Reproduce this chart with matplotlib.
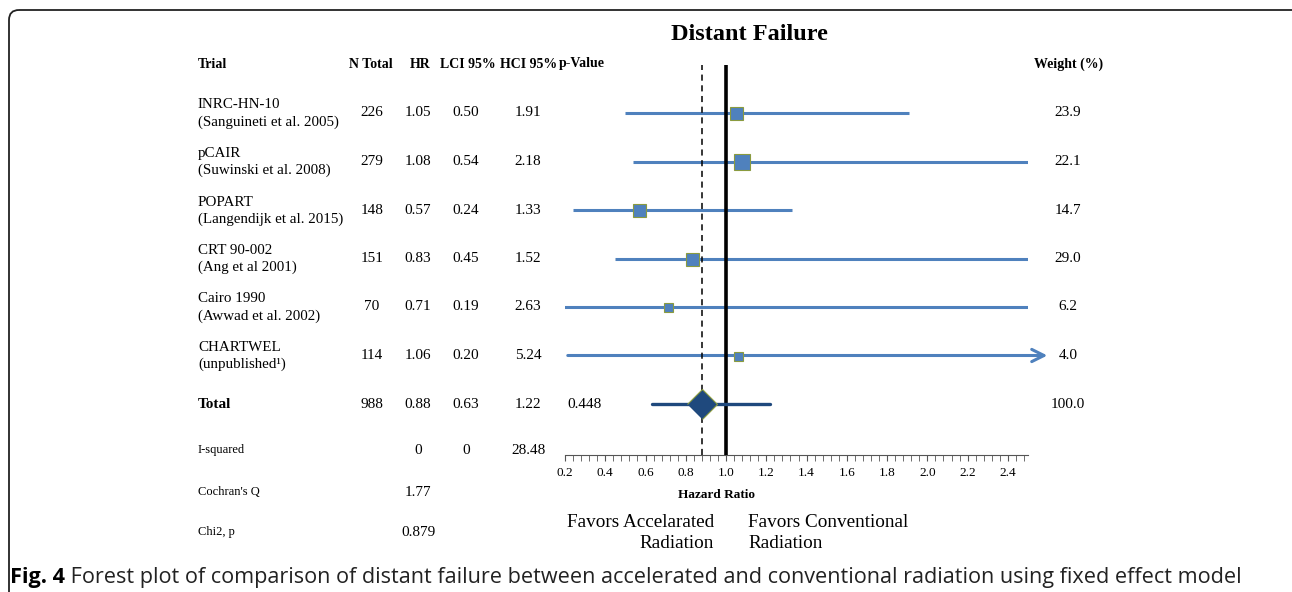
import matplotlib
matplotlib.use('Agg')
import matplotlib.pyplot as plt
from matplotlib.patches import FancyBboxPatch
from matplotlib.ticker import MultipleLocator

# study data
trials = ['INRC-HN-10', 'pCAIR', 'POPART', 'CRT 90-002', 'Cairo 1990', 'CHARTWEL']
refs = ['(Sanguineti et al. 2005)', '(Suwinski et al. 2008)',
        '(Langendijk et al. 2015)', '(Ang et al 2001)',
        '(Awwad et al. 2002)', '(unpublished\u00b9)']
n_total = [226, 279, 148, 151, 70, 114]
hr = [1.05, 1.08, 0.57, 0.83, 0.71, 1.06]
lci = [0.50, 0.54, 0.24, 0.45, 0.19, 0.20]
hci = [1.91, 2.18, 1.33, 1.52, 2.63, 5.24]
weight = [23.9, 22.1, 14.7, 29.0, 6.2, 4.0]
# right end of each CI bar as it is drawn in the original chart
drawn_hi = [1.91, 2.5, 1.33, 2.5, 2.5, 2.5]

total_n = 988
total_hr, total_lci, total_hci = 0.88, 0.63, 1.22
total_p = 0.448
total_weight = 100.0

i_squared = [0, 0, 28.48]
cochran_q = 1.77
chi2_p = 0.879

headers = ['N Total', 'HR', 'LCI 95%', 'HCI 95%', 'p-Value']

# styles
box_px = [13, 16, 13, 13, 9, 9]
header_x = [349, 410, 440, 500, 559]
BLUE = '#4F81BD'
DARK = '#1F497D'
EDGE = '#8A9B3F'
SERIF = 'Liberation Serif'
W, H = 1292, 592

fig = plt.figure(figsize=(W / 100, H / 100), dpi=100)
bg = fig.add_axes([0, 0, 1, 1])
bg.set_xlim(0, W)
bg.set_ylim(H, 0)
bg.axis('off')

# frame round the figure
bg.add_patch(FancyBboxPatch((9, 10), 1300, 600, boxstyle='round,pad=0,rounding_size=10',
                            fc='none', ec='#222222', lw=1.3))


def txt(x, y, s, ha='center', size=11, weight='normal', **kw):
    return bg.text(x, y, s, ha=ha, va='center', fontsize=size, fontweight=weight,
                   family=SERIF, **kw)


# title and headers
txt(749, 35, 'Distant Failure', size=17.5, weight='bold')
hy = 64
hs = 10
txt(198, hy, 'Trial', ha='left', size=hs, weight='bold')
for hx, name in zip(header_x, headers):
    txt(hx, hy, name, ha='left', size=hs, weight='bold')
txt(1069, hy, 'Weight (%)', size=hs, weight='bold')

row_y0, row_dy = 113, 48.5
for i in range(len(trials)):
    y = row_y0 + i * row_dy
    txt(198, y - 8, trials[i], ha='left', size=10.8)
    txt(198, y + 9, refs[i], ha='left', size=10.8)
    txt(372, y, str(n_total[i]))
    txt(418, y, f'{hr[i]:.2f}')
    txt(466, y, f'{lci[i]:.2f}')
    txt(528, y, f'{hci[i]:.2f}')
    txt(1068, y, f'{weight[i]:.1f}')

ty = row_y0 + 6 * row_dy
txt(198, ty, 'Total', ha='left', weight='bold')
txt(372, ty, str(total_n))
txt(418, ty, f'{total_hr:.2f}')
txt(466, ty, f'{total_lci:.2f}')
txt(528, ty, f'{total_hci:.2f}')
txt(585, ty, f'{total_p:.3f}')
txt(1068, ty, f'{total_weight:.1f}')

# heterogeneity stats
txt(198, 450, 'I-squared', ha='left', size=9)
txt(418, 450, f'{i_squared[0]:g}')
txt(466, 450, f'{i_squared[1]:g}')
txt(528, 450, f'{i_squared[2]:.2f}')
txt(198, 492, "Cochran's Q", ha='left', size=9)
txt(418, 493, f'{cochran_q:.2f}')
txt(198, 532, 'Chi2, p', ha='left', size=9)
txt(418, 532, f'{chi2_p:.3f}')

txt(716, 495, 'Hazard Ratio', size=9.5, weight='bold')
txt(714, 533, 'Favors Accelarated\nRadiation', ha='right', size=13.8, linespacing=1.38,
    multialignment='right')
txt(748, 533, 'Favors Conventional\nRadiation', ha='left', size=13.8, linespacing=1.38,
    multialignment='left')

# caption
cap = bg.text(10, 578, 'Fig. 4', ha='left', va='center', fontsize=15.6, fontweight='bold',
              family='Open Sans')
bg.annotate(' Forest plot of comparison of distant failure between accelerated and '
            'conventional radiation using fixed effect model',
            xy=(1, 0), xycoords=cap, va='bottom', ha='left', fontsize=15.6,
            family='Open Sans', color='#222222')

# forest plot axes
left, right, top, bottom = 565, 1028, 65, 455
ax = fig.add_axes([left / W, 1 - bottom / H, (right - left) / W, (bottom - top) / H])
ax.set_xlim(0.2, 2.5)
ax.set_ylim((bottom - row_y0) / row_dy, (top - row_y0) / row_dy)
ax.patch.set_alpha(0)
for s in ['top', 'left', 'right']:
    ax.spines[s].set_visible(False)
ax.spines['bottom'].set_color('#555555')
ax.set_yticks([])
ax.xaxis.set_minor_locator(MultipleLocator(0.04))
ax.tick_params(axis='x', which='both', direction='out', length=4, color='#555555',
               labelsize=9.5, pad=5)
ax.set_xticks([0.2 + 0.2 * k for k in range(12)])
ax.set_xticklabels([f'{0.2 + 0.2 * k:.1f}' for k in range(12)], family=SERIF)

rows = list(range(len(trials)))
for i in rows:
    if i == len(trials) - 1:
        ax.annotate('', xy=(2.61, i), xytext=(max(lci[i], 0.2), i),
                    arrowprops=dict(arrowstyle='->', color=BLUE, lw=2.2,
                                    mutation_scale=22), annotation_clip=False, zorder=2)
    else:
        ax.plot([lci[i], drawn_hi[i]], [i, i], color=BLUE, lw=2.2, zorder=2,
                solid_capstyle='butt')

ax.axvline(total_hr, color='black', lw=1.1, ls=(0, (4, 3)), zorder=3)
ax.axvline(1.0, color='black', lw=2.6, zorder=3)

for i in rows:
    ax.plot(hr[i], i, marker='s', ms=box_px[i] * 0.72, mfc=BLUE, mec=EDGE, mew=0.8,
            zorder=5)

tr = len(trials)
ax.plot([total_lci, total_hci], [tr, tr], color=DARK, lw=2.4, zorder=4,
        solid_capstyle='round')
ax.plot(total_hr, tr, marker=[(-1, 0), (0, 1), (1, 0), (0, -1)], ms=30 * 0.72,
        mfc=DARK, mec=EDGE, mew=0.8, zorder=5)

fig.savefig('out.png', dpi=100)
